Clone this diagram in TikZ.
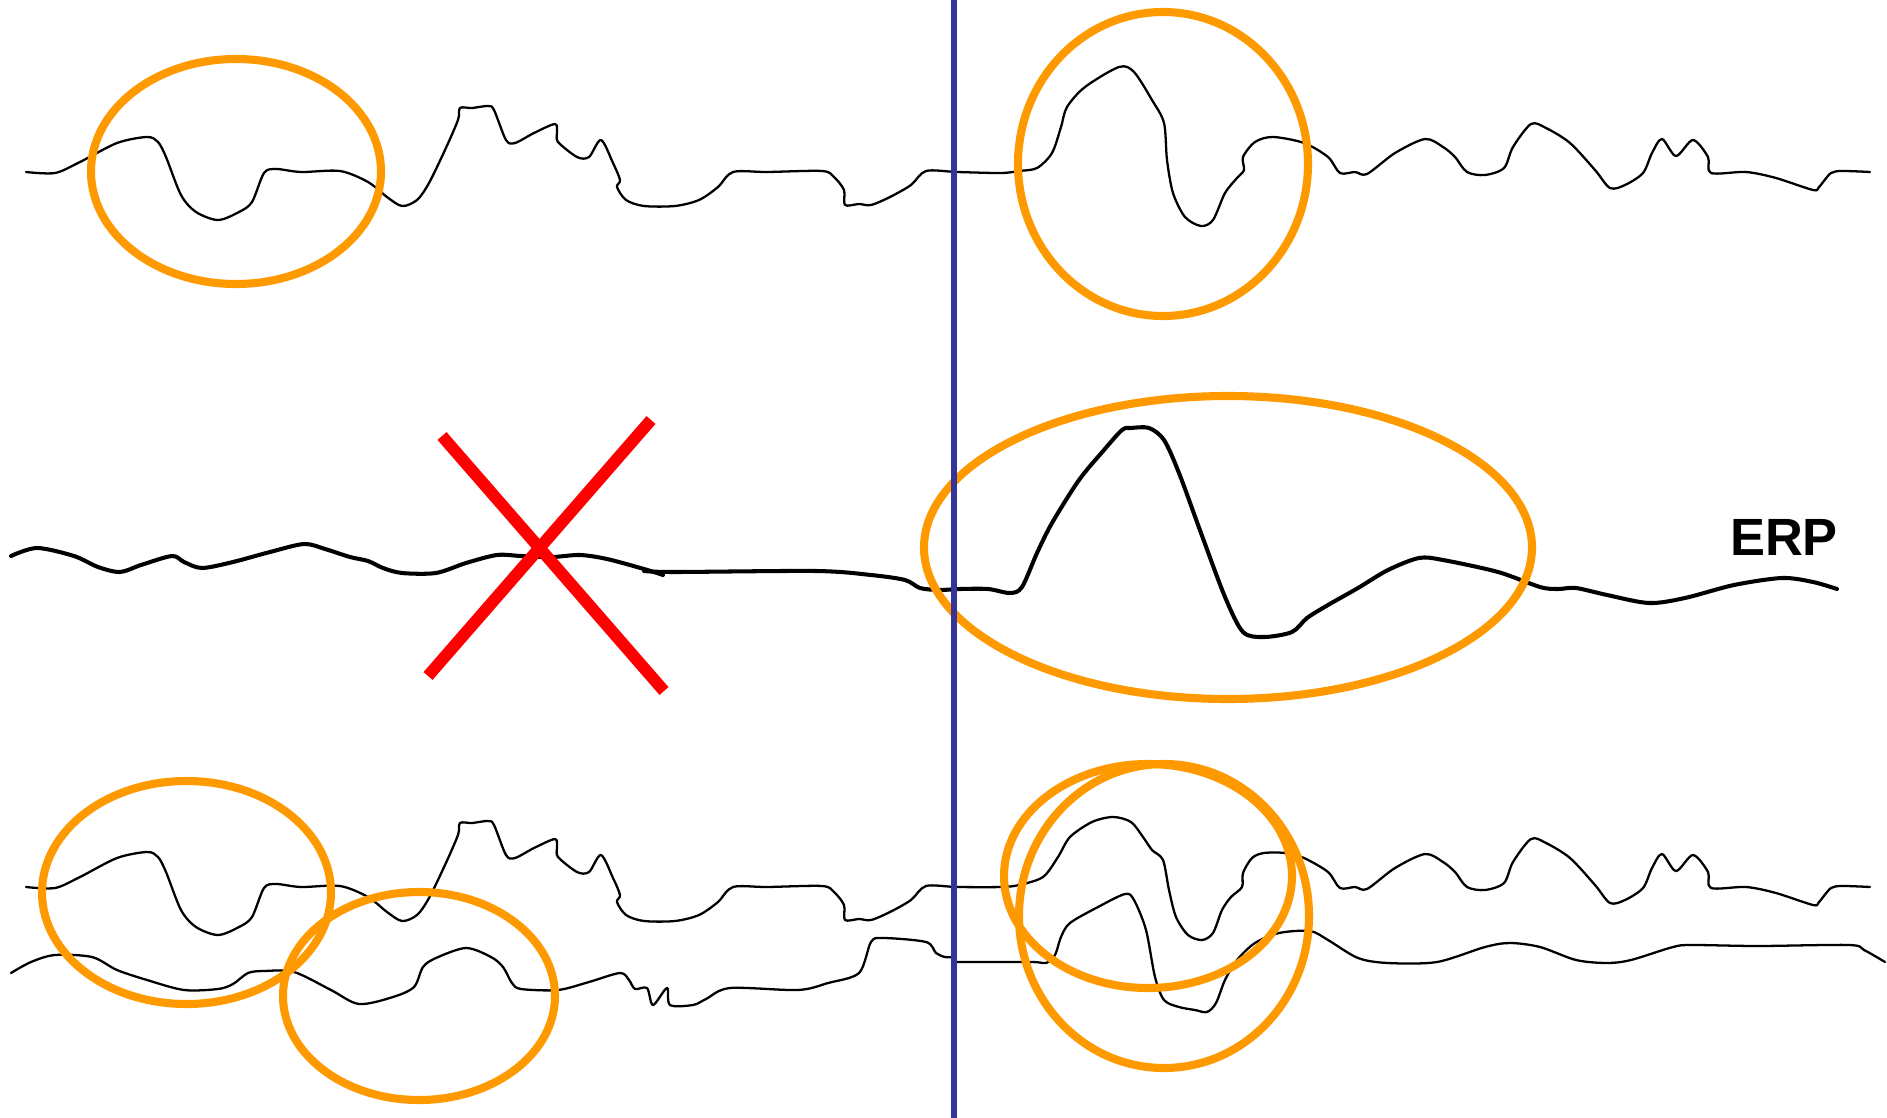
\documentclass[tikz,border=0pt]{standalone}
\usepackage{fontspec}
\setmainfont{Liberation Sans}
\definecolor{orng}{RGB}{255,153,0}
\definecolor{vblue}{RGB}{51,51,153}
\definecolor{xred}{RGB}{255,0,0}
\tikzset{
  wave/.style={line width=0.65pt, line join=round, line cap=round},
  erpwave/.style={line width=1.15pt, line join=round, line cap=round},
  ring/.style={draw=orng, line width=2.3pt},
  crossline/.style={draw=xred, line width=3.4pt},
  onset/.style={draw=vblue, line width=1.7pt}
}
\begin{document}
\begin{tikzpicture}[x=0.01cm, y=-0.01cm]
\useasboundingbox (0,0) rectangle (1887,1118);
\fill[white] (0,0) rectangle (1887,1118);

% top single trial
\draw[wave] plot[smooth, tension=0.5] coordinates {
(26,172) (55,173) (80,162) (117,143) (147,137) (158,142) (166,157) (181,195) (196,212) (218,220) (239,212) (252,202) (264,173) (276,169) (301,172) (340,171) (368,182) (387,197) (402,206) (417,200) (429,183) (445,150) (458,120) (460,108) (472,108) (488,106) (494,110) (506,140) (515,143) (534,133) (555,124) (557,133) (558,142) (577,157) (589,157) (601,140) (613,163) (620,180) (617,187) (626,200) (644,206) (675,206) (699,200) (718,187) (733,172) (767,172) (822,171) (834,177) (844,190) (845,205) (859,204) (871,205) (890,197) (911,185) (926,171) (957,172) (1001,173) (1019,171) (1037,168) (1052,153) (1061,127) (1067,107) (1085,87) (1119,67) (1134,72) (1152,100) (1164,123) (1167,160) (1173,193) (1185,217) (1201,226) (1213,220) (1225,193) (1237,178) (1244,170) (1243,157) (1255,142) (1273,137) (1304,143) (1328,157) (1340,173) (1355,172) (1367,174) (1395,153) (1425,139) (1443,147) (1455,157) (1467,172) (1485,175) (1504,168) (1513,147) (1531,124) (1546,128) (1570,143) (1595,170) (1610,188) (1625,185) (1643,173) (1652,153) (1662,139) (1676,156) (1693,140) (1708,157) (1711,173) (1746,172) (1776,178) (1813,190) (1819,187) (1831,173) (1843,171) (1870,172)};

% middle ERP
\draw[erpwave] plot[smooth, tension=0.5] coordinates {
(11,556) (37,548) (74,556) (98,567) (120,572) (141,565) (172,556) (184,562) (202,568) (233,562) (270,552) (304,544) (325,549) (350,557) (368,561) (383,568) (402,573) (436,573) (466,563) (497,555) (521,556) (552,557) (580,555) (607,559) (644,569) (663,575)};
\draw[erpwave] plot[smooth, tension=0.5] coordinates {
(644,571) (675,572) (816,571) (871,575) (905,580) (920,588) (939,590) (960,589) (988,589) (1010,593) (1022,587) (1037,553) (1052,523) (1079,480) (1104,450) (1122,430) (1131,428) (1149,428) (1164,440) (1179,473) (1201,533) (1225,597) (1243,632) (1264,637) (1292,632) (1307,618) (1328,605) (1358,588) (1388,570) (1419,558) (1443,560) (1498,572) (1540,587) (1558,589) (1576,588) (1607,595) (1649,603) (1685,598) (1734,585) (1782,578) (1813,582) (1837,589)};

% bottom pair of trials
\draw[wave] plot[smooth, tension=0.5] coordinates {
(26,887) (55,888) (80,877) (117,858) (147,852) (158,857) (166,872) (181,910) (196,927) (218,935) (239,927) (252,917) (264,888) (276,884) (301,887) (340,886) (368,897) (387,912) (402,921) (417,915) (429,898) (445,865) (458,835) (460,823) (472,823) (488,821) (494,825) (506,855) (515,858) (534,848) (555,839) (557,848) (558,857) (577,872) (589,872) (601,855) (613,878) (620,895) (617,902) (626,915) (644,921) (675,921) (699,915) (718,902) (733,887) (767,887) (822,886) (834,892) (844,905) (845,920) (859,919) (871,920) (890,912) (911,900) (926,886) (957,887) (1001,887) (1019,885) (1043,877) (1058,857) (1070,837) (1092,822) (1113,817) (1131,822) (1143,837) (1152,850) (1163,860) (1169,890) (1176,917) (1188,935) (1202,940) (1213,933) (1222,910) (1231,897) (1242,887) (1243,873) (1252,858) (1264,853) (1285,853) (1304,858) (1328,872) (1340,888) (1355,887) (1367,889) (1395,868) (1425,854) (1443,862) (1455,872) (1467,887) (1485,890) (1504,883) (1513,862) (1531,839) (1546,843) (1570,858) (1595,885) (1610,903) (1625,900) (1643,888) (1652,868) (1662,854) (1676,871) (1693,855) (1708,872) (1711,888) (1746,887) (1776,893) (1813,905) (1819,902) (1831,888) (1843,886) (1870,887)};

\draw[wave] plot[smooth, tension=0.5] coordinates {
(11,973) (31,962) (55,955) (92,957) (117,970) (147,980) (184,990) (218,989) (233,984) (248,973) (264,971) (294,972) (331,990) (359,1004) (393,997) (414,987) (423,967) (436,958) (466,948) (491,957) (503,967) (512,983) (521,989) (558,990) (589,982) (620,973) (629,980) (635,989) (647,988) (653,1005) (667,988) (670,1005) (693,1005) (706,999) (730,988) (798,990) (828,983) (859,973) (871,942) (883,938) (926,942) (936,953) (945,957) (954,957)};
\draw[wave] plot[smooth, tension=0.5] coordinates {
(952,962) (1031,962) (1046,963) (1055,955) (1061,937) (1070,923) (1098,907) (1125,894) (1134,900) (1146,930) (1155,977) (1164,1000) (1179,1007) (1195,1010) (1207,1012) (1216,1003) (1225,980) (1237,960) (1255,943) (1279,933) (1310,931) (1328,940) (1358,958) (1388,963) (1437,962) (1485,947) (1510,943) (1540,947) (1576,960) (1607,963) (1631,960) (1673,947) (1692,945) (1758,946) (1849,945) (1864,950) (1885,962)};

% orange rings
\draw[ring] (236,171.5) ellipse [x radius=145, y radius=112.5];
\draw[ring] (1163,164) ellipse [x radius=145, y radius=152];
\draw[ring] (1228,547.5) ellipse [x radius=304, y radius=151.5];
\draw[ring] (186.5,892.5) ellipse [x radius=144.5, y radius=111.5];
\draw[ring] (419,996) ellipse [x radius=136, y radius=104];
\draw[ring] (1148,876) ellipse [x radius=144, y radius=112];
\draw[ring] (1164,916) ellipse [x radius=145, y radius=152];

% stimulus onset
\coordinate (onsetTop) at (954,0);
\coordinate (onsetBot) at (954,1118);
\draw[onset] (onsetTop) -- (onsetBot);

% red cross
\coordinate (xa1) at (442,436);
\coordinate (xa2) at (664,691);
\coordinate (xb1) at (651,420);
\coordinate (xb2) at (428,676);
\draw[crossline] (xa1) -- (xa2);
\draw[crossline] (xb1) -- (xb2);

\node[anchor=base, inner sep=0pt, font=\bfseries\fontsize{14.9}{16}\selectfont] (erp) at (1784,555) {ERP};
\end{tikzpicture}
\end{document}
